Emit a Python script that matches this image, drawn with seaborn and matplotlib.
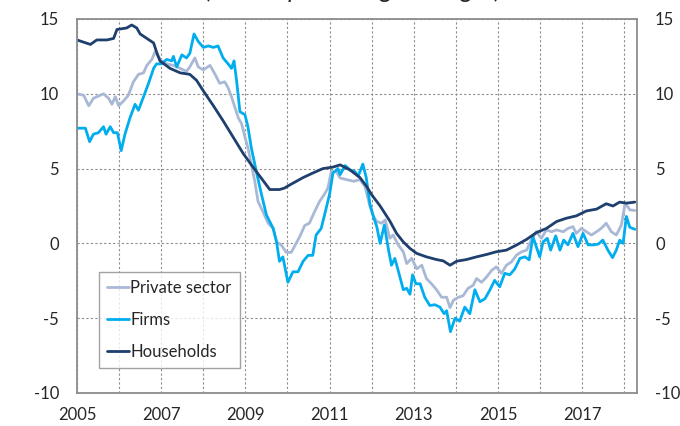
import pandas as pd
import matplotlib
matplotlib.use('Agg')
import matplotlib.pyplot as plt
import seaborn as sns

# Values (annual % changes), x in decimal years
hh_x = [2005.00, 2005.32, 2005.47, 2005.71, 2005.87, 2005.95, 2006.18, 2006.30, 2006.42, 2006.50,
        2006.66, 2006.82, 2006.89, 2006.97, 2007.21, 2007.45, 2007.68, 2007.84, 2008.00, 2008.24,
        2008.47, 2008.71, 2008.95, 2009.18, 2009.42, 2009.58, 2009.81, 2009.93, 2010.05, 2010.37,
        2010.60, 2010.84, 2011.08, 2011.25, 2011.49, 2011.72, 2011.88, 2012.00, 2012.20, 2012.43,
        2012.59, 2012.75, 2012.91, 2013.07, 2013.30, 2013.54, 2013.70, 2013.86, 2014.02, 2014.25,
        2014.49, 2014.73, 2014.96, 2015.20, 2015.44, 2015.68, 2015.91, 2016.15, 2016.39, 2016.62,
        2016.86, 2017.10, 2017.34, 2017.57, 2017.73, 2017.89, 2018.05, 2018.25]
hh_y = [13.6, 13.3, 13.6, 13.6, 13.7, 14.3, 14.4, 14.6, 14.4, 14.0,
        13.7, 13.4, 12.8, 12.2, 11.7, 11.4, 11.3, 10.9, 10.2, 9.2,
        8.2, 7.1, 6.0, 5.1, 4.2, 3.6, 3.6, 3.7, 3.9, 4.4,
        4.7, 5.0, 5.1, 5.25, 4.9, 4.4, 3.8, 3.25, 2.5, 1.5,
        0.67, 0.1, -0.34, -0.67, -0.9, -1.08, -1.17, -1.46, -1.19, -1.08,
        -0.9, -0.74, -0.56, -0.45, -0.11, 0.27, 0.72, 1.0, 1.46, 1.68,
        1.84, 2.17, 2.29, 2.65, 2.5, 2.76, 2.69, 2.76]

ps_x = [2005.00, 2005.16, 2005.28, 2005.39, 2005.55, 2005.63, 2005.75, 2005.83, 2005.91, 2005.99,
        2006.10, 2006.22, 2006.34, 2006.46, 2006.58, 2006.66, 2006.78, 2006.85, 2006.93, 2007.01,
        2007.13, 2007.29, 2007.45, 2007.60, 2007.68, 2007.80, 2007.88, 2008.00, 2008.16, 2008.28,
        2008.39, 2008.51, 2008.59, 2008.67, 2008.75, 2008.83, 2008.91, 2008.99, 2009.06, 2009.14,
        2009.22, 2009.30, 2009.42, 2009.54, 2009.66, 2009.74, 2009.85, 2009.97, 2010.09, 2010.29,
        2010.41, 2010.52, 2010.64, 2010.76, 2010.88, 2010.96, 2011.04, 2011.16, 2011.25, 2011.41,
        2011.57, 2011.72, 2011.84, 2011.96, 2012.04, 2012.12, 2012.24, 2012.32, 2012.43, 2012.51,
        2012.63, 2012.75, 2012.83, 2012.95, 2013.07, 2013.19, 2013.30, 2013.42, 2013.54, 2013.66,
        2013.78, 2013.86, 2013.94, 2014.06, 2014.17, 2014.29, 2014.41, 2014.49, 2014.61, 2014.73,
        2014.85, 2014.96, 2015.08, 2015.20, 2015.32, 2015.44, 2015.56, 2015.68, 2015.79, 2015.91,
        2016.03, 2016.15, 2016.27, 2016.39, 2016.55, 2016.66, 2016.78, 2016.86, 2016.98, 2017.10,
        2017.22, 2017.34, 2017.45, 2017.57, 2017.69, 2017.81, 2017.93, 2018.02, 2018.13, 2018.25]
ps_y = [10.0, 9.9, 9.2, 9.7, 9.9, 10.0, 9.7, 9.3, 9.8, 9.2,
        9.5, 9.9, 10.8, 11.3, 11.4, 11.9, 12.3, 12.8, 12.5, 12.2,
        12.0, 11.9, 11.7, 11.5, 11.8, 12.4, 11.8, 11.6, 11.9, 11.3,
        10.7, 10.8, 10.4, 9.8, 9.1, 8.4, 8.0, 7.1, 6.4, 5.3,
        4.2, 2.8, 2.1, 1.35, 1.0, 0.1, -0.1, -0.6, -0.6, 0.45,
        1.2, 1.35, 2.1, 2.8, 3.3, 3.7, 4.8, 4.8, 4.37, 4.26,
        4.15, 4.26, 3.8, 2.47, 1.8, 1.46, 1.35, 1.57, 0.34, 0.56,
        -0.1, -0.56, -1.35, -1.0, -1.7, -1.46, -2.35, -2.7, -3.1, -3.6,
        -3.6, -4.3, -3.8, -3.6, -3.5, -3.0, -2.8, -2.35, -2.6, -2.24,
        -1.8, -1.57, -2.0, -1.46, -1.23, -0.78, -0.56, -0.45, 0.22, 0.78,
        0.34, 0.9, 0.78, 0.9, 0.78, 1.0, 1.12, 0.67, 1.0, 0.78,
        0.56, 0.78, 1.0, 1.35, 0.78, 0.56, 1.23, 2.69, 2.24, 2.2]

fi_x = [2005.00, 2005.20, 2005.30, 2005.39, 2005.51, 2005.63, 2005.69, 2005.79, 2005.87, 2005.96,
        2006.05, 2006.14, 2006.26, 2006.38, 2006.46, 2006.58, 2006.70, 2006.82, 2006.89, 2007.01,
        2007.13, 2007.25, 2007.29, 2007.37, 2007.49, 2007.60, 2007.68, 2007.78, 2007.88, 2008.00,
        2008.12, 2008.24, 2008.35, 2008.47, 2008.59, 2008.67, 2008.73, 2008.79, 2008.87, 2008.99,
        2009.06, 2009.14, 2009.26, 2009.38, 2009.50, 2009.66, 2009.74, 2009.81, 2009.89, 2010.01,
        2010.13, 2010.25, 2010.37, 2010.49, 2010.60, 2010.68, 2010.80, 2010.88, 2011.00, 2011.08,
        2011.20, 2011.25, 2011.37, 2011.49, 2011.60, 2011.68, 2011.79, 2011.87, 2011.96, 2012.04,
        2012.12, 2012.20, 2012.30, 2012.40, 2012.47, 2012.55, 2012.67, 2012.75, 2012.83, 2012.91,
        2012.97, 2013.05, 2013.15, 2013.26, 2013.38, 2013.50, 2013.62, 2013.72, 2013.78, 2013.87,
        2013.98, 2014.09, 2014.21, 2014.33, 2014.45, 2014.57, 2014.69, 2014.81, 2014.92, 2015.04,
        2015.16, 2015.28, 2015.40, 2015.52, 2015.64, 2015.74, 2015.83, 2015.91, 2015.99, 2016.07,
        2016.17, 2016.25, 2016.37, 2016.47, 2016.56, 2016.66, 2016.78, 2016.90, 2017.02, 2017.14,
        2017.26, 2017.38, 2017.49, 2017.61, 2017.72, 2017.81, 2017.89, 2017.97, 2018.05, 2018.13,
        2018.25]
fi_y = [7.7, 7.7, 6.8, 7.3, 7.4, 7.8, 7.3, 7.8, 7.4, 7.4,
        6.2, 7.3, 8.4, 9.3, 8.9, 9.8, 10.7, 11.7, 12.0, 12.0,
        12.3, 12.2, 12.5, 11.8, 12.6, 12.4, 12.7, 14.0, 13.5, 13.1,
        13.2, 13.1, 13.2, 12.4, 12.0, 11.7, 12.2, 10.9, 8.8, 8.6,
        7.8, 6.4, 4.8, 3.3, 1.9, 1.0, 0.1, -1.2, -0.9, -2.6,
        -1.9, -1.9, -1.2, -0.8, -0.8, 0.56, 1.0, 1.9, 3.3, 4.7,
        5.0, 4.6, 5.2, 4.9, 4.8, 4.5, 5.3, 4.4, 2.6, 1.8,
        1.12, 0.0, 1.23, -0.45, -1.46, -1.0, -2.24, -3.1, -3.0, -3.4,
        -2.1, -2.7, -2.7, -3.6, -4.15, -4.1, -4.26, -4.7, -4.5, -5.9,
        -5.0, -5.2, -4.26, -4.7, -3.1, -3.9, -3.7, -3.1, -2.47, -2.9,
        -2.0, -2.1, -1.7, -1.0, -0.9, -1.1, 0.45, -0.22, -0.9, 0.1,
        0.34, -0.45, 0.5, -0.45, 0.22, -0.1, 0.67, -0.22, 0.67, -0.1,
        -0.1, -0.05, 0.22, -0.45, -0.95, -0.45, 0.22, 0.0, 1.8, 1.08,
        0.94]

year_ticks = list(range(2005, 2019))
year_labels = [str(y) if y % 2 == 1 else '' for y in year_ticks]
y_ticks = [-10, -5, 0, 5, 10, 15]

sns.set_theme(style='white')
plt.rcParams['font.family'] = ['Lato', 'DejaVu Sans']
plt.rcParams['axes.unicode_minus'] = False

fig = plt.figure(figsize=(6.8, 4.26), dpi=100)
ax = fig.add_axes([0.1132, 0.0775, 0.8235, 0.8779])

ps = pd.DataFrame({'x': ps_x, 'y': ps_y})
fi = pd.DataFrame({'x': fi_x, 'y': fi_y})
hh = pd.DataFrame({'x': hh_x, 'y': hh_y})

sns.lineplot(data=ps, x='x', y='y', ax=ax, color='#A9B9D5', lw=2.0, label='Private sector')
sns.lineplot(data=fi, x='x', y='y', ax=ax, color='#00AEEF', lw=2.0, label='Firms')
sns.lineplot(data=hh, x='x', y='y', ax=ax, color='#1F3F6E', lw=2.0, label='Households')

ax.set_xlim(2005, 2018.3)
ax.set_ylim(-10, 15)
ax.set_xticks(year_ticks)
ax.set_xticklabels(year_labels)
ax.set_yticks(y_ticks)
ax.set_xlabel('')
ax.set_ylabel('')
ax.grid(True, color='#8C8C8C', linestyle=(0, (2, 2)), linewidth=0.8)
ax.tick_params(axis='x', length=0, pad=10, labelsize=12)
ax.tick_params(axis='y', length=0, pad=13, labelsize=12, labelleft=True, labelright=True)
for s in ax.spines.values():
    s.set_color('#8C8C8C')
    s.set_linewidth(1.3)

leg = ax.legend(loc='lower left', bbox_to_anchor=(0.039, 0.067), borderaxespad=0,
                fontsize=12, frameon=True, fancybox=False, handlelength=1.3,
                handletextpad=0.1, labelspacing=0.95, borderpad=0.5)
leg.get_frame().set_edgecolor('#8C8C8C')
leg.get_frame().set_linewidth(1.0)

# title sits mostly above the visible area in the reference
fig.text(0.52, 1 + 1.5 / 426, '(annual percentage changes)', ha='center', va='baseline',
         fontsize=18, style='italic')

fig.savefig('out.png', dpi=100)
